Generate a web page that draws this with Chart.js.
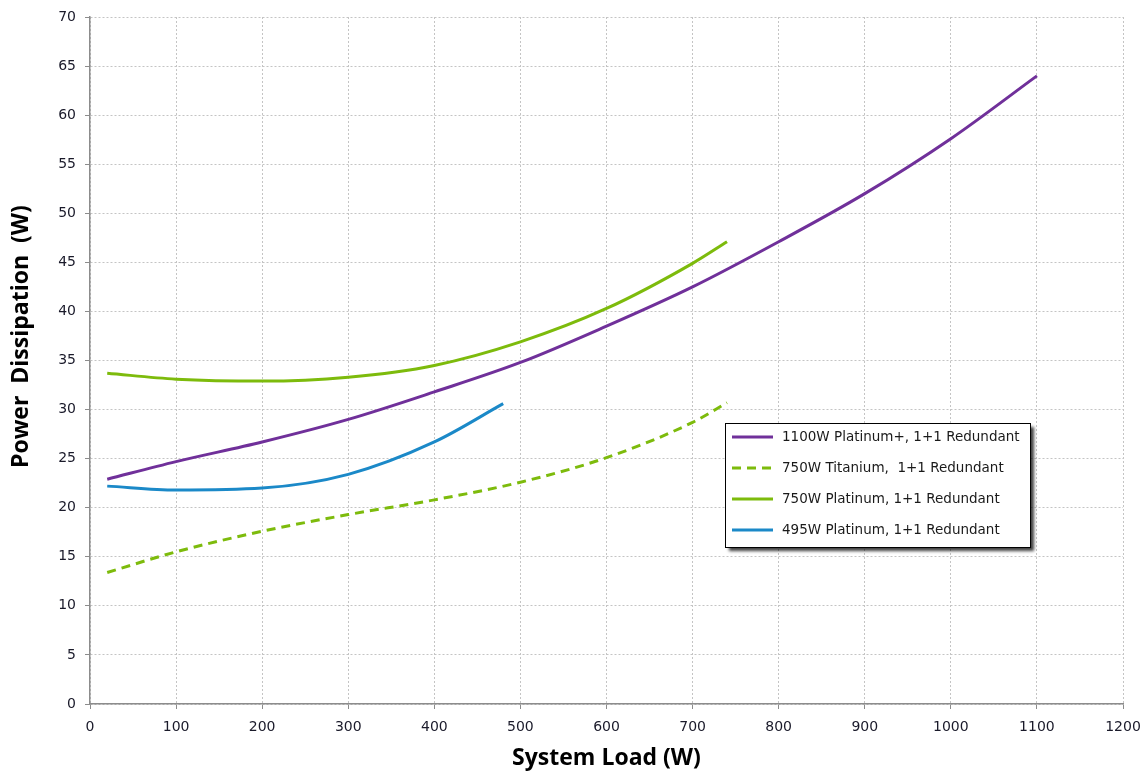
<!DOCTYPE html>
<html>
<head>
<meta charset="utf-8">
<script src="https://cdn.jsdelivr.net/npm/chart.js@4.4.1/dist/chart.umd.min.js"></script>
<style>
  html, body { margin: 0; padding: 0; background: #fff; }
  #wrap { width: 1143px; height: 772px; }
</style>
</head>
<body>
<div id="wrap"><canvas id="powerChart"></canvas></div>
<script>
// system load (W) sample points and power dissipation (W) for each PSU
const load1100 = [20, 100, 200, 300, 400, 500, 600, 700, 800, 900, 1000, 1100];
const plat1100 = [22.9, 24.7, 26.7, 29.0, 31.8, 34.8, 38.5, 42.5, 47.1, 52.0, 57.6, 64.0];

const load750 = [20, 100, 200, 300, 400, 500, 600, 700, 740];
const tit750 = [13.4, 15.5, 17.6, 19.3, 20.8, 22.6, 25.1, 28.7, 30.7];
const plat750 = [33.7, 33.1, 32.9, 33.3, 34.5, 36.9, 40.3, 44.9, 47.1];

const load495 = [20, 100, 200, 300, 400, 480];
const plat495 = [22.2, 21.8, 22.0, 23.4, 26.7, 30.6];

const seriesNames = [
    "1100W Platinum+, 1+1 Redundant",
    "750W Titanium,  1+1 Redundant",
    "750W Platinum, 1+1 Redundant",
    "495W Platinum, 1+1 Redundant",
];

const xTicks = { min: 0, max: 1200, step: 100 };
const yTicks = { min: 0, max: 70, step: 5 };

const pts = (xs, ys) => xs.map((x, i) => ({ x: x, y: ys[i] }));

const tickFont = { family: "'DejaVu Sans', Verdana, sans-serif", size: 14 };
const titleFont = { family: "'Open Sans', sans-serif", size: 23, weight: "bold" };

const gridOpts = {
    color: "#c4c4c4",
    tickColor: "#8c8c8c",
    tickBorderDash: [],
    tickLength: 5,
};
const borderOpts = { color: "#8c8c8c", width: 1.5, dash: [2, 2] };

// legend drawn inside the plot, in a box with a drop shadow
const boxLegend = {
    id: "boxLegend",
    afterDraw(chart) {
        const ctx = chart.ctx;
        const x0 = 725, y0 = 423, w = 305, h = 124;
        ctx.save();
        ctx.shadowColor = "rgba(0,0,0,0.75)";
        ctx.shadowOffsetX = 4;
        ctx.shadowOffsetY = 4;
        ctx.shadowBlur = 3;
        ctx.fillStyle = "#fff";
        ctx.fillRect(x0, y0, w, h);
        ctx.restore();
        ctx.save();
        ctx.strokeStyle = "#000";
        ctx.lineWidth = 1;
        ctx.strokeRect(x0 + 0.5, y0 + 0.5, w, h);
        ctx.font = "13.5px 'DejaVu Sans', Verdana, sans-serif";
        ctx.textBaseline = "middle";
        chart.data.datasets.forEach((ds, i) => {
            const yy = y0 + 14 + i * 31;
            ctx.strokeStyle = ds.borderColor;
            ctx.lineWidth = 3;
            ctx.setLineDash(ds.borderDash || []);
            ctx.beginPath();
            ctx.moveTo(x0 + 7, yy);
            ctx.lineTo(x0 + 48, yy);
            ctx.stroke();
            ctx.setLineDash([]);
            ctx.fillStyle = "#1a1a1a";
            ctx.fillText(ds.label, x0 + 57, yy);
        });
        ctx.restore();
    },
};

new Chart(document.getElementById("powerChart"), {
    type: "line",
    data: {
        datasets: [
            {
                label: seriesNames[0],
                data: pts(load1100, plat1100),
                borderColor: "#70309a",
            },
            {
                label: seriesNames[1],
                data: pts(load750, tit750),
                borderColor: "#7dbb0c",
                borderDash: [9, 6],
            },
            {
                label: seriesNames[2],
                data: pts(load750, plat750),
                borderColor: "#7dbb0c",
            },
            {
                label: seriesNames[3],
                data: pts(load495, plat495),
                borderColor: "#1b89c8",
            },
        ],
    },
    options: {
        responsive: true,
        maintainAspectRatio: false,
        animation: false,
        elements: {
            point: { radius: 0 },
            line: { borderWidth: 3, cubicInterpolationMode: "monotone", fill: false },
        },
        layout: { padding: { top: 17, right: 20 } },
        plugins: {
            legend: { display: false },
            tooltip: { enabled: false },
        },
        scales: {
            x: {
                type: "linear",
                min: xTicks.min,
                max: xTicks.max,
                ticks: {
                    stepSize: xTicks.step,
                    color: "#1a1a2a",
                    font: tickFont,
                    padding: 10,
                    callback: (v) => String(v),
                },
                grid: gridOpts,
                border: borderOpts,
                title: { display: true, text: "System Load (W)", font: titleFont, color: "#000", padding: { top: 0, bottom: 0 } },
                afterFit(scale) {
                    scale.height = 68;
                    scale.paddingLeft = 0;
                    scale.paddingRight = 0;
                },
            },
            y: {
                min: yTicks.min,
                max: yTicks.max,
                ticks: {
                    stepSize: yTicks.step,
                    color: "#1a1a2a",
                    font: tickFont,
                    padding: 9,
                    callback: (v) => String(v),
                },
                grid: gridOpts,
                border: borderOpts,
                title: { display: true, text: "        Power  Dissipation  (W)", font: titleFont, color: "#000", padding: { top: 8, bottom: 0 } },
                afterFit(scale) {
                    scale.width = 90;
                    scale.paddingTop = 0;
                    scale.paddingBottom = 0;
                },
            },
        },
    },
    plugins: [boxLegend],
});
</script>
</body>
</html>
